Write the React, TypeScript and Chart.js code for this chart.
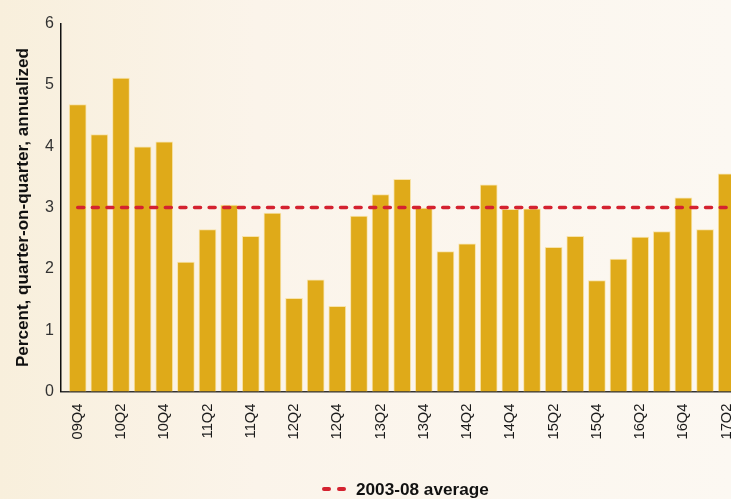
import React, { useEffect, useRef } from "react";
import { Chart, registerables } from "chart.js";

Chart.register(...registerables);

const categories = [
  "09Q4", "10Q1", "10Q2", "10Q3", "10Q4",
  "11Q1", "11Q2", "11Q3", "11Q4",
  "12Q1", "12Q2", "12Q3", "12Q4",
  "13Q1", "13Q2", "13Q3", "13Q4",
  "14Q1", "14Q2", "14Q3", "14Q4",
  "15Q1", "15Q2", "15Q3", "15Q4",
  "16Q1", "16Q2", "16Q3", "16Q4",
  "17Q1", "17Q2",
];

const growth = [
  4.68, 4.19, 5.11, 3.99, 4.07,
  2.11, 2.64, 3.04, 2.53,
  2.91, 1.52, 1.82, 1.39,
  2.86, 3.21, 3.46, 2.99,
  2.28, 2.41, 3.37, 2.97,
  2.98, 2.35, 2.53, 1.81,
  2.16, 2.52, 2.61, 3.16,
  2.64, 3.55,
];

const averageValue = 3.0;
const averageLabel = "2003-08 average";
const yTicks = [0, 1, 2, 3, 4, 5, 6];
const yTitle = "Percent, quarter-on-quarter, annualized";

type FontSetup = { family: string; stretch: string; tick: number; title: number; legend: number };

function setupFonts(): FontSetup {
  const ctx = document.createElement("canvas").getContext("2d")!;
  const measure = (font: string, text: string) => {
    ctx.font = font;
    return ctx.measureText(text).width;
  };
  const normal = measure("100px 'Noto Sans'", "09Q4");
  const cond = measure("condensed 100px 'Noto Sans'", "09Q4");
  const condOK = cond < normal * 0.93;
  const family = condOK ? "'Noto Sans', sans-serif" : "'Liberation Sans', Arial, sans-serif";
  const stretch = condOK ? "condensed" : "";
  const fit = (text: string, target: number, weight: string) =>
    Math.round((1000 * target) / measure(`${weight} ${stretch} 100px ${family}`, text)) / 10;
  return {
    family,
    stretch,
    tick: fit("09Q4", 36, "normal"),
    title: fit(yTitle, 320, "bold"),
    legend: fit(averageLabel, 133, "bold"),
  };
}

export default function App() {
  const canvasRef = useRef<HTMLCanvasElement | null>(null);
  const fontsRef = useRef<FontSetup | null>(null);
  if (!fontsRef.current) fontsRef.current = setupFonts();
  const fonts = fontsRef.current;

  useEffect(() => {
    const canvas = canvasRef.current;
    if (!canvas) return;
    const barData = categories.map((_, i) => ({ x: i, y: growth[i] }));
    const lineData = categories.map((_, i) => ({ x: i, y: averageValue }));
    const w = (base: string) => (fonts.stretch ? `${base} ${fonts.stretch}` : base);

    const chart = new Chart(canvas, {
      type: "bar",
      data: {
        datasets: [
          {
            type: "line",
            label: averageLabel,
            data: lineData,
            borderColor: "#d42230",
            borderWidth: 3.5,
            borderDash: [6, 8.6],
            borderCapStyle: "round",
            pointRadius: 0,
            fill: false,
            order: 0,
          } as any,
          {
            type: "bar",
            label: "Growth",
            data: barData,
            backgroundColor: "#dfaa19",
            borderColor: "rgba(248,226,165,0.95)",
            borderWidth: 1,
            barThickness: 17,
            order: 1,
          } as any,
        ],
      },
      options: {
        animation: false,
        responsive: false,
        maintainAspectRatio: false,
        layout: { padding: { left: 9, top: 23.5, right: 0, bottom: 47.5 } },
        plugins: {
          legend: { display: false },
          tooltip: { enabled: false },
        },
        scales: {
          x: {
            type: "linear",
            offset: false,
            min: -0.8,
            max: 31.54,
            afterBuildTicks: (axis: any) => {
              axis.ticks = categories
                .map((_, i) => i)
                .filter((i) => i % 2 === 0)
                .map((v) => ({ value: v }));
            },
            ticks: {
              autoSkip: false,
              minRotation: 90,
              maxRotation: 90,
              padding: 12,
              color: "#1a1a1a",
              font: { family: fonts.family, size: fonts.tick, weight: w("normal") },
              callback: (v: any) => categories[v] ?? "",
            },
            grid: { display: false, drawTicks: false, offset: false },
            border: { display: true, color: "#333", width: 1.5 },
          },
          y: {
            min: 0,
            max: 6,
            afterBuildTicks: (axis: any) => {
              axis.ticks = yTicks.map((v) => ({ value: v }));
            },
            ticks: {
              padding: 6.5,
              color: "#333",
              font: { family: fonts.family, size: fonts.tick + 1.3, weight: w("normal") },
            },
            grid: { display: false, drawTicks: false },
            border: { display: true, color: "#111", width: 1.5 },
            title: {
              display: true,
              text: yTitle,
              color: "#111",
              font: { family: fonts.family, size: fonts.title, weight: w("bold") },
              padding: { top: 4, bottom: 5 },
            },
          },
        },
      },
    } as any);
    return () => chart.destroy();
  }, []);

  return (
    <div
      style={{
        position: "absolute",
        left: 0,
        top: 0,
        width: 731,
        height: 499,
        overflow: "hidden",
        background: "linear-gradient(to right, #f8efdc 0%, #fbf4ea 35%, #fcf8f2 100%)",
      }}
    >
      <canvas
        ref={canvasRef}
        width={760}
        height={499}
        style={{ position: "absolute", left: 0, top: 0, width: 760, height: 499 }}
      />
      <div
        style={{
          position: "absolute",
          left: 322,
          top: 478,
          height: 22,
          display: "flex",
          alignItems: "center",
          fontFamily: fonts.family,
          fontStretch: fonts.stretch || "normal",
          fontWeight: "bold",
          fontSize: fonts.legend,
          color: "#111",
          whiteSpace: "nowrap",
        }}
      >
        <span style={{ display: "inline-block", width: 9, height: 4, borderRadius: 2, background: "#d42230", marginRight: 6 }} />
        <span style={{ display: "inline-block", width: 9, height: 4, borderRadius: 2, background: "#d42230", marginRight: 10 }} />
        <span>{averageLabel}</span>
      </div>
    </div>
  );
}
